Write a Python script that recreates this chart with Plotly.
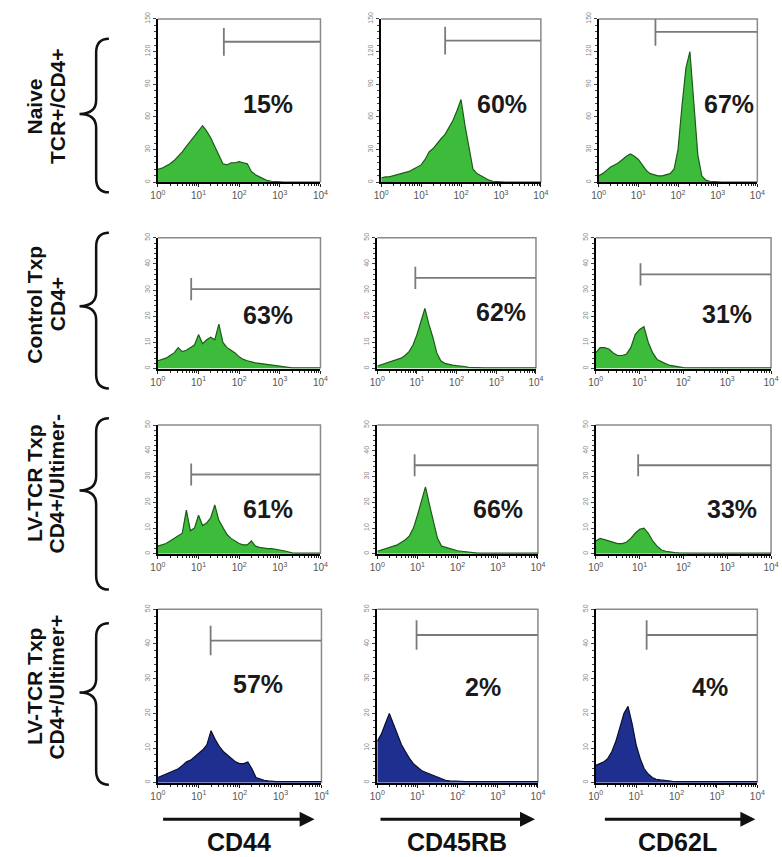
import plotly.graph_objects as go

# ---------------------------------------------------------------------------
# Data
# ---------------------------------------------------------------------------
# log10 fluorescence channel positions shared by every histogram
LOG_CHANNEL = [0.0, 0.1, 0.2, 0.3, 0.4, 0.5, 0.6, 0.7, 0.8, 0.9,
               1.0, 1.1, 1.2, 1.3, 1.4, 1.5, 1.6, 1.7, 1.8, 1.9,
               2.0, 2.1, 2.2, 2.3, 2.4, 2.5, 2.6, 2.7, 2.8, 2.9,
               3.0, 3.1, 3.2, 3.3, 3.4, 3.5, 3.6, 3.7, 3.8, 3.9, 4.0]

MARKERS = ["CD44", "CD45RB", "CD62L"]
GROUPS = [("Naive", "TCR+/CD4+"),
          ("Control Txp", "CD4+"),
          ("LV-TCR Txp", "CD4+/Ultimer-"),
          ("LV-TCR Txp", "CD4+/Ultimer+")]
Y_MAX = [150, 50, 50, 50]
Y_TICKS = [[0, 30, 60, 90, 120, 150],
           [0, 10, 20, 30, 40, 50],
           [0, 10, 20, 30, 40, 50],
           [0, 10, 20, 30, 40, 50]]
X_TICKS = [1, 10, 100, 1000, 10000]
X_TICK_TEXT = ["10<sup>0</sup>", "10<sup>1</sup>", "10<sup>2</sup>",
               "10<sup>3</sup>", "10<sup>4</sup>"]

PERCENT = [["15%", "60%", "67%"],
           ["63%", "62%", "31%"],
           ["61%", "66%", "33%"],
           ["57%", "2%", "4%"]]

# marker gate: start intensity and height (in counts)
GATE_START = [[42, 40, 27],
              [6.6, 9.1, 10.5],
              [6.6, 8.5, 9.3],
              [19.5, 9.5, 18.2]]
GATE_LEVEL = [[129, 130, 138],
              [30.4, 34.7, 36],
              [30.8, 34.4, 34.4],
              [41, 42.6, 42.6]]

# event counts per channel
NAIVE_CD44 = [12, 13, 15, 17, 20, 24, 28, 33, 38, 43,
              48, 52, 47, 41, 33, 25, 17, 16, 18, 18,
              19, 18, 17, 10, 7, 5, 3, 1.5, 1, 0.6,
              0.4, 0.3, 0.3, 0.3, 0.3, 0.3, 0.3, 0.3, 0.3, 0.3, 0.3]
NAIVE_CD45RB = [4, 5, 5, 6, 7, 8, 9, 10, 12, 14,
                16, 21, 28, 31, 36, 40, 44, 51, 57, 66,
                76, 52, 30, 12, 8, 6, 4, 2, 1, 0.6,
                0.4, 0.3, 0.3, 0.3, 0.3, 0.3, 0.3, 0.3, 0.3, 0.3, 0.3]
NAIVE_CD62L = [6, 8, 11, 14, 16, 18, 21, 24, 26, 24,
               21, 16, 11, 8, 7, 6, 6, 7, 8, 12,
               30, 70, 105, 120, 75, 25, 6, 2, 1, 0.6,
               0.4, 0.3, 0.3, 0.3, 0.3, 0.3, 0.3, 0.3, 0.3, 0.3, 0.3]

CTRL_CD44 = [3, 3.5, 4, 5, 6, 8, 6.5, 7, 8, 9,
             13, 9.5, 11, 12, 11, 17, 10, 8, 7, 6,
             4.5, 3.5, 3, 2.5, 2.2, 2, 1.8, 1.5, 1.2, 1,
             0.9, 0.7, 0.5, 0.3, 0.3, 0.3, 0.3, 0.3, 0.3, 0.3, 0.3]
CTRL_CD45RB = [1, 1.5, 2, 2.5, 3, 3.5, 4, 5, 6.5, 9,
               13, 18, 23, 17, 12, 6, 3, 2, 1.5, 1.3,
               1.1, 1, 0.8, 0.5, 0.4, 0.3, 0.3, 0.3, 0.3, 0.3,
               0.5, 0.3, 0.3, 0.3, 0.3, 0.3, 0.3, 0.3, 0.3, 0.3, 0.3]
CTRL_CD62L = [6, 8, 8, 7.5, 6, 5, 5, 5.5, 8, 13,
              15, 16, 10, 6, 3.5, 2.5, 1.8, 1.2, 0.9, 0.6,
              0.4, 0.3, 0.3, 0.3, 0.3, 0.3, 0.3, 0.3, 0.3, 0.3,
              0.3, 0.3, 0.3, 0.3, 0.3, 0.3, 0.3, 0.3, 0.3, 0.3, 0.3]

NEG_CD44 = [3, 3.5, 4, 5, 6, 7, 8, 17, 9, 10,
            15, 11, 12, 14, 19, 13, 10, 7.5, 6, 5,
            4, 3.5, 3.5, 5, 3, 2.5, 2.2, 2, 2, 1.8,
            1.5, 1.2, 0.8, 0.4, 0.3, 0.3, 0.3, 0.3, 0.3, 0.3, 0.3]
NEG_CD45RB = [1, 1.5, 2, 2.5, 3, 3.5, 4.5, 5.5, 7, 10,
              15, 21, 26, 19, 12, 6, 3, 2.5, 2, 1.5,
              1.2, 1, 0.8, 0.5, 0.3, 0.3, 0.3, 0.3, 0.3, 0.3,
              0.3, 0.3, 0.3, 0.3, 0.3, 0.3, 0.3, 0.3, 0.3, 0.3, 0.3]
NEG_CD62L = [5, 6, 5.5, 5, 4.5, 4, 4, 4.5, 6, 8,
             9.5, 10, 8, 5, 3, 1.5, 1, 0.7, 0.5, 0.4,
             0.3, 0.3, 0.3, 0.3, 0.3, 0.3, 0.3, 0.3, 0.3, 0.3,
             0.3, 0.3, 0.3, 0.3, 0.3, 0.3, 0.3, 0.3, 0.3, 0.3, 0.3]

POS_CD44 = [1.5, 2, 2.5, 3, 3.5, 4, 5, 6, 6.5, 7.5,
            8.5, 9.5, 11, 15, 12.5, 10.5, 9, 8, 7, 6,
            5.5, 5.5, 6, 4, 1.5, 1, 0.7, 0.5, 0.3, 0.3,
            0.3, 0.3, 0.3, 0.3, 0.3, 0.3, 0.3, 0.3, 0.3, 0.3, 0.3]
POS_CD45RB = [12, 14, 17, 20, 17, 14, 11, 9, 7, 5.5,
              4.5, 3.5, 3, 2.5, 2, 1.5, 1, 0.7, 0.5, 0.4,
              0.3, 0.3, 0.3, 0.3, 0.3, 0.3, 0.3, 0.3, 0.3, 0.3,
              0.3, 0.3, 0.3, 0.3, 0.3, 0.3, 0.3, 0.3, 0.3, 0.3, 0.3]
POS_CD62L = [5, 5.5, 6, 7, 9, 12, 16, 20, 22, 17,
             11, 7, 4, 2.5, 1.5, 1, 0.8, 0.6, 0.5, 0.4,
             0.3, 0.3, 0.3, 0.3, 0.3, 0.3, 0.3, 0.3, 0.3, 0.3,
             0.3, 0.3, 0.3, 0.3, 0.3, 0.3, 0.3, 0.3, 0.3, 0.3, 0.3]

COUNTS = [[NAIVE_CD44, NAIVE_CD45RB, NAIVE_CD62L],
          [CTRL_CD44, CTRL_CD45RB, CTRL_CD62L],
          [NEG_CD44, NEG_CD45RB, NEG_CD62L],
          [POS_CD44, POS_CD45RB, POS_CD62L]]

# ---------------------------------------------------------------------------
# Layout constants (pixels in a 782 x 857 canvas)
# ---------------------------------------------------------------------------
W, H = 782, 857
ROW_Y = [(12, 177), (233, 365), (422, 552), (608, 783)]
COL_X = [[(153, 319), (381, 544), (603, 765)],
         [(153, 319), (377, 539), (600, 779)],
         [(153, 319), (377, 541), (600, 779)],
         [(153, 320), (377, 541), (600, 765)]]
PCT_POS = [[(0.68, 0.48), (0.755, 0.48), (0.82, 0.48)],
           [(0.68, 0.41), (0.78, 0.43), (0.75, 0.42)],
           [(0.68, 0.35), (0.75, 0.35), (0.78, 0.35)],
           [(0.61, 0.57), (0.66, 0.55), (0.71, 0.55)]]
BRACE_Y = [(32, 108, 187), (228, 302, 385), (415, 488, 588), (622, 692, 785)]
LABEL_Y = [100, 300, 481, 686]
ARROW_X = [(160, 313), (382, 538), (611, 763)]
COL_LABEL_X = [236, 458, 683]

FILL = ["#3dbb3a", "#3dbb3a", "#3dbb3a", "#1e2f8f"]
EDGE = ["#1d5a1a", "#1d5a1a", "#1d5a1a", "#0a0f30"]
FONT = "Liberation Sans, Arial, sans-serif"


def px(x):
    return x / W


def py(y):
    return 1 - y / H


MINOR_X = [m * 10 ** d for d in range(4) for m in range(2, 10)]

fig = go.Figure()
layout = dict(
    width=W, height=H, margin=dict(l=0, r=0, t=0, b=0),
    paper_bgcolor="white", plot_bgcolor="white", showlegend=False,
    annotations=[], shapes=[],
)

xs = [10 ** e for e in LOG_CHANNEL]

for r in range(4):
    for c in range(3):
        n = r * 3 + c + 1
        sfx = "" if n == 1 else str(n)
        xa, ya = f"x{sfx}", f"y{sfx}"
        ymax = Y_MAX[r]

        fig.add_trace(go.Scatter(
            x=xs, y=COUNTS[r][c], xaxis=xa, yaxis=ya, mode="lines",
            fill="tozeroy", fillcolor=FILL[r],
            line=dict(color=EDGE[r], width=1.2), hoverinfo="skip"))

        g, lvl = GATE_START[r][c], GATE_LEVEL[r][c]
        half = 0.085 * ymax
        fig.add_trace(go.Scatter(
            x=[g, 10000], y=[lvl, lvl], xaxis=xa, yaxis=ya, mode="lines",
            line=dict(color="#7a7a7a", width=1.8), hoverinfo="skip"))
        fig.add_trace(go.Scatter(
            x=[g, g], y=[lvl - half, min(lvl + half, ymax)], xaxis=xa,
            yaxis=ya, mode="lines", line=dict(color="#7a7a7a", width=1.8),
            hoverinfo="skip"))

        x0, x1 = COL_X[r][c]
        y0, y1 = ROW_Y[r]
        layout[f"xaxis{sfx}"] = dict(
            type="log", range=[0, 4], domain=[px(x0), px(x1)], anchor=ya,
            tickmode="array", tickvals=X_TICKS, ticktext=X_TICK_TEXT,
            tickfont=dict(family=FONT, size=10, color="#555"),
            ticks="outside", ticklen=3, tickcolor="#222",
            showline=True, linecolor="black", linewidth=2,
            showgrid=False, zeroline=False, fixedrange=True,
            minor=dict(tickmode="array", tickvals=MINOR_X, ticks="outside",
                       ticklen=2, tickcolor="#222", showgrid=False))
        layout[f"yaxis{sfx}"] = dict(
            range=[0, ymax], domain=[py(y1), py(y0)], anchor=xa,
            tickmode="array", tickvals=Y_TICKS[r], tickangle=-90,
            tickfont=dict(family=FONT, size=7, color="#888"),
            ticks="outside", ticklen=3, tickcolor="#444",
            showline=True, linecolor="black", linewidth=2,
            showgrid=False, zeroline=False, fixedrange=True,
            minor=dict(dtick=ymax / 25, ticks="outside", ticklen=2,
                       tickcolor="#444", showgrid=False))

        # light frame on the top and right sides
        layout["shapes"].append(dict(
            type="path", xref=f"{xa} domain", yref=f"{ya} domain",
            path="M 0,1 L 1,1 L 1,0", line=dict(color="#8a8a8a", width=1.5),
            layer="below"))

        fx, fy = PCT_POS[r][c]
        layout["annotations"].append(dict(
            text=f"<b>{PERCENT[r][c]}</b>", xref=f"{xa} domain",
            yref=f"{ya} domain", x=fx, y=fy, showarrow=False,
            xanchor="center", yanchor="middle",
            font=dict(family=FONT, size=25, color="#1a1a1a")))

# group labels and braces
for r in range(4):
    line1, line2 = GROUPS[r]
    for txt, xpos in ((line1, 27), (line2, 50)):
        layout["annotations"].append(dict(
            text=f"<b>{txt}</b>", xref="paper", yref="paper",
            x=px(xpos), y=py(LABEL_Y[r]), textangle=-90, showarrow=False,
            xanchor="center", yanchor="middle",
            font=dict(family=FONT, size=21, color="#111")))
    top, mid, bot = BRACE_Y[r]
    pts = [
        f"M {px(103)},{py(top)}",
        f"Q {px(90)},{py(top)} {px(90)},{py(top + 14)}",
        f"L {px(90)},{py(mid - 14)}",
        f"Q {px(90)},{py(mid)} {px(73)},{py(mid)}",
        f"Q {px(90)},{py(mid)} {px(90)},{py(mid + 14)}",
        f"L {px(90)},{py(bot - 14)}",
        f"Q {px(90)},{py(bot)} {px(103)},{py(bot)}",
    ]
    layout["shapes"].append(dict(
        type="path", xref="paper", yref="paper", path=" ".join(pts),
        line=dict(color="#111", width=2.5)))

# marker arrows and names under each column
for c in range(3):
    a0, a1 = ARROW_X[c]
    layout["annotations"].append(dict(
        x=px(a1), y=py(820), xref="paper", yref="paper",
        ax=-(a1 - a0), ay=0, text="", showarrow=True,
        arrowhead=2, arrowsize=1, arrowwidth=3, arrowcolor="#111"))
    layout["annotations"].append(dict(
        text=f"<b>{MARKERS[c]}</b>", xref="paper", yref="paper",
        x=px(COL_LABEL_X[c]), y=py(843), showarrow=False,
        xanchor="center", yanchor="middle",
        font=dict(family=FONT, size=25, color="#111")))

fig.update_layout(**layout)
fig.write_html("out.html")
